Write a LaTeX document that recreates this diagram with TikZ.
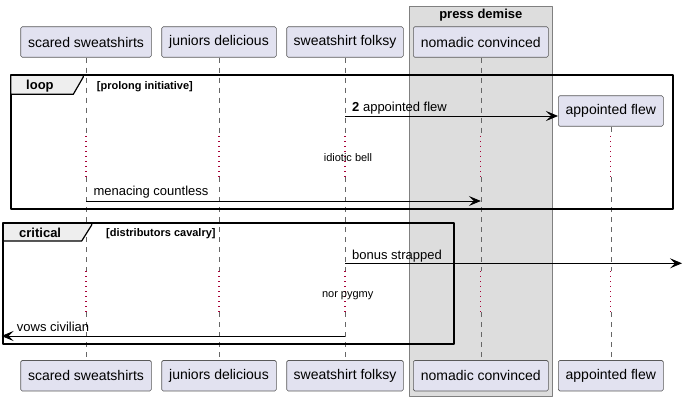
\documentclass[tikz,border=0pt]{standalone}
\usepackage{fontspec}
\setmainfont{Liberation Sans}
\usetikzlibrary{arrows.meta}
\definecolor{partfill}{HTML}{E2E2F0}
\definecolor{boxfill}{HTML}{DDDDDD}
\definecolor{tabfill}{HTML}{EEEEEE}
\definecolor{delaycol}{HTML}{A80036}
\tikzset{
  partbox/.style={draw=gray!70!black, line width=0.6pt, fill=partfill, rounded corners=1.5pt, minimum height=30.5pt, inner sep=0pt, font=\fontsize{14}{14}\selectfont},
  lifeline/.style={gray!80!black, line width=0.6pt, dash pattern=on 5pt off 5pt},
  delayline/.style={delaycol, line width=1.1pt, dash pattern=on 1.2pt off 3.8pt},
  msg/.style={line width=0.8pt, -{Stealth[length=12pt,width=10pt,inset=5pt]}},
  msglabel/.style={anchor=base west, inner sep=0pt, font=\fontsize{13}{13}\selectfont},
  delaylabel/.style={anchor=base, inner sep=0pt, font=\fontsize{11}{11}\selectfont},
  frameline/.style={line width=1.9pt},
  tabshape/.style={line width=1.2pt, fill=tabfill},
  framelabel/.style={anchor=base west, inner sep=0pt, font=\bfseries\fontsize{13}{13}\selectfont},
  guardlabel/.style={anchor=base west, inner sep=0pt, font=\bfseries\fontsize{11}{11}\selectfont}
}
\begin{document}
\begin{tikzpicture}[x=1pt, y=-1pt, line join=round]
  \useasboundingbox (0,0) rectangle (683,401);
  \draw[draw=gray, fill=boxfill, line width=0.8pt] (409.3,6) rectangle (552.3,396);
  \node[anchor=base, inner sep=0pt, font=\bfseries\fontsize{13}{13}\selectfont] (boxtitle) at (480.8,18.5) {press demise};

  \node[partbox, minimum width=130.6pt] (ss) at (86,42) {scared sweatshirts};
  \node[partbox, minimum width=114.6pt] (jd) at (219,42) {juniors delicious};
  \node[partbox, minimum width=116.6pt] (sf) at (345,42) {sweatshirt folksy};
  \node[partbox, minimum width=135pt] (nc) at (480.8,42) {nomadic convinced};
  \node[partbox, minimum width=105pt] (af) at (610.8,111) {appointed flew};
  \node[partbox, minimum width=130.6pt] (ss-b) at (86,375.7) {scared sweatshirts};
  \node[partbox, minimum width=114.6pt] (jd-b) at (219,375.7) {juniors delicious};
  \node[partbox, minimum width=116.6pt] (sf-b) at (345,375.7) {sweatshirt folksy};
  \node[partbox, minimum width=135pt] (nc-b) at (480.8,375.7) {nomadic convinced};
  \node[partbox, minimum width=105pt] (af-b) at (610.8,375.7) {appointed flew};

  \coordinate (d1a) at (0,136);
  \coordinate (d1b) at (0,177);
  \coordinate (d2a) at (0,271);
  \coordinate (d2b) at (0,312);
  \foreach \p in {ss,jd,sf,nc,af}{
    \draw[lifeline] (\p.south) -- (\p.south |- d1a);
    \draw[delayline] (\p.south |- d1a) -- (\p.south |- d1b);
    \draw[lifeline] (\p.south |- d1b) -- (\p.south |- d2a);
    \draw[delayline] (\p.south |- d2a) -- (\p.south |- d2b);
    \draw[lifeline] (\p.south |- d2b) -- (\p-b.north);
  }

  \draw[frameline] (10.7,75.3) rectangle (673.3,209.3);
  \draw[tabshape] (10.7,75.3) -- (83.3,75.3) -- (83.3,77) -- (73.3,94.3) -- (10.7,94.3) -- cycle;
  \node[framelabel] (looplbl) at (26,90) {loop};
  \node[guardlabel] (loopguard) at (96.7,89.3) {[prolong initiative]};

  \coordinate (m1) at (sf.south |- 0,116);
  \draw[msg] (m1) -- (m1 -| af.west);
  \node[msglabel] (m1lbl) at (352,111.5) {\textbf{2} appointed flew};
  \node[delaylabel] (delay1) at (348,161.5) {idiotic bell};
  \coordinate (m2) at (ss.south |- 0,201);
  \draw[msg] (m2) -- (m2 -| nc.south);
  \node[msglabel] (m2lbl) at (93.3,196) {menacing countless};

  \draw[frameline] (3.3,223.3) rectangle (454.3,344.3);
  \draw[tabshape] (3.3,223.3) -- (91.7,223.3) -- (91.7,225) -- (81.7,241) -- (3.3,241) -- cycle;
  \node[framelabel] (critlbl) at (19,237.3) {critical};
  \node[guardlabel] (critguard) at (106,236.8) {[distributors cavalry]};

  \coordinate (m3) at (sf.south |- 0,263.3);
  \coordinate (m3end) at (682,263.3);
  \draw[msg] (m3) -- (m3end);
  \node[msglabel] (m3lbl) at (352,259.3) {bonus strapped};
  \node[delaylabel] (delay2) at (347.7,297.3) {nor pygmy};
  \coordinate (m4) at (sf.south |- 0,336);
  \coordinate (m4end) at (1.5,336);
  \draw[msg] (m4) -- (m4end);
  \node[msglabel] (m4lbl) at (16.7,331) {vows civilian};
\end{tikzpicture}
\end{document}
